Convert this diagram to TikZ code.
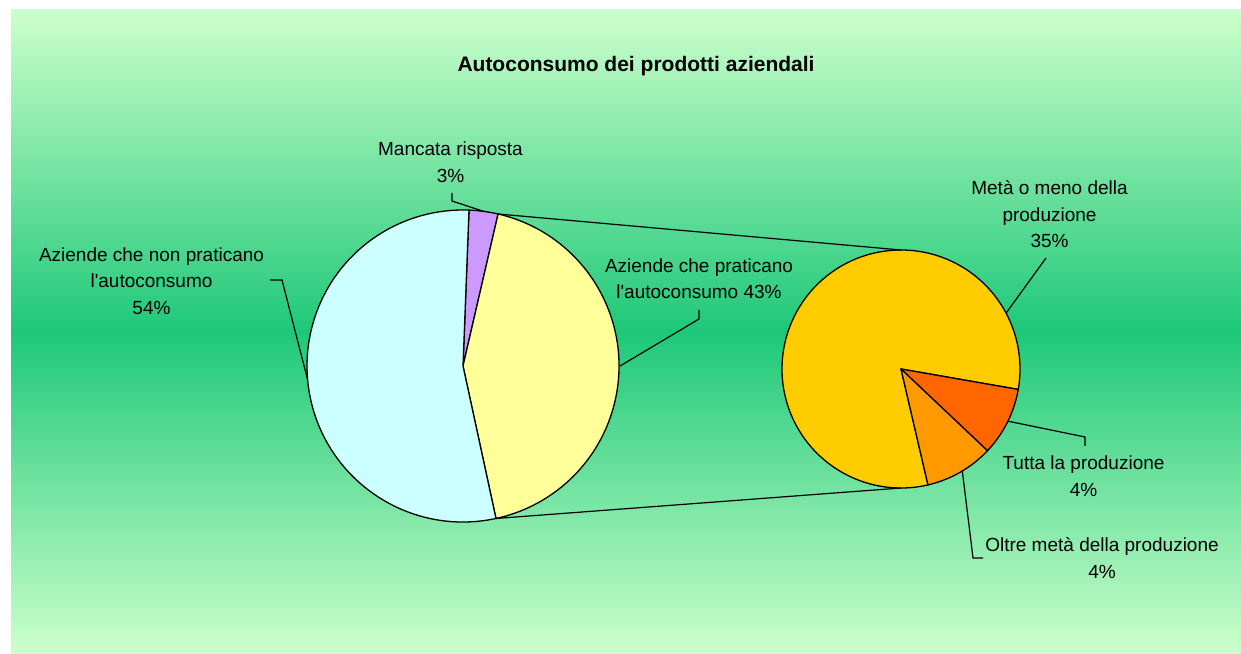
\documentclass[tikz,border=0pt]{standalone}
\usepackage{fontspec}
\setmainfont{Liberation Sans}
\usepackage{xcolor}
\definecolor{bgLight}{HTML}{CCFFCC}
\definecolor{bgMid}{HTML}{1EC878}
\definecolor{sliceCyan}{HTML}{CCFFFF}
\definecolor{sliceYellow}{HTML}{FFFF99}
\definecolor{slicePurple}{HTML}{CC99FF}
\definecolor{sliceGold}{HTML}{FFCC00}
\definecolor{sliceRed}{HTML}{FF6600}
\definecolor{sliceOrange}{HTML}{FF9900}
\usepackage{tikz}
\usetikzlibrary{positioning,calc}
\tikzset{%
  pieSlice/.style={%
    draw=black,
    line width=1.3pt,
    line join=round
  },
  leaderLine/.style={%
    draw=black,
    line width=1.2pt
  },
  dataLabel/.style={%
    align=center,
    inner sep=0pt,
    font=\fontsize{19}{26.5}\selectfont
  },
  chartTitle/.style={%
    inner sep=0pt,
    font=\bfseries\fontsize{21}{25}\selectfont
  }
}

\begin{document}
\begin{tikzpicture}[x=1pt, y=1pt]
            \useasboundingbox (0,0) rectangle (1241,653);
            \fill[white] (0,0) rectangle (1241,653);
            \fill[top color=bgLight, bottom color=bgLight, middle color=bgMid] (11,0) rectangle (1241,643);

            \coordinate (leftPie) at (463,287);
            \coordinate (rightPie) at (901,284);

            \filldraw[pieSlice, fill=slicePurple] (leftPie) -- ++(87.8:156pt) arc[start angle=87.8, end angle=77, radius=156pt] -- cycle;
            \filldraw[pieSlice, fill=sliceYellow] (leftPie) -- ++(77:156pt) arc[start angle=77, end angle=-77.8, radius=156pt] -- cycle;
            \filldraw[pieSlice, fill=sliceCyan] (leftPie) -- ++(-77.8:156pt) arc[start angle=-77.8, end angle=-272.2, radius=156pt] -- cycle;

            \filldraw[pieSlice, fill=sliceGold] (rightPie) -- ++(-76.9:119pt) arc[start angle=-76.9, end angle=-369.9, radius=119pt] -- cycle;
            \filldraw[pieSlice, fill=sliceRed] (rightPie) -- ++(-9.9:119pt) arc[start angle=-9.9, end angle=-43.4, radius=119pt] -- cycle;
            \filldraw[pieSlice, fill=sliceOrange] (rightPie) -- ++(-43.4:119pt) arc[start angle=-43.4, end angle=-76.9, radius=119pt] -- cycle;

            \coordinate (leftTop) at ($(leftPie)+(77:156pt)$);
            \coordinate (leftBottom) at ($(leftPie)+(-77.8:156pt)$);
            \coordinate (rightTop) at ($(rightPie)+(90:119pt)$);
            \coordinate (rightBottom) at ($(rightPie)+(-90:119pt)$);
            \draw[leaderLine] (leftTop) -- (rightTop);
            \draw[leaderLine] (leftBottom) -- (rightBottom);

            \node[chartTitle] (title) at (636,586.5) {Autoconsumo dei prodotti aziendali};

            \node[dataLabel] (lblMancata) at (450.5,491) {Mancata risposta\\3\%};
            \node[dataLabel] (lblNonPrat) at (151.5,372) {Aziende che non praticano\\l\textquotesingle autoconsumo\\54\%};
            \node[dataLabel] (lblPrat) at (699,374.5) {Aziende che praticano\\l\textquotesingle autoconsumo 43\%};
            \node[dataLabel] (lblMeta) at (1049.5,438.5) {Metà o meno della\\produzione\\35\%};
            \node[dataLabel] (lblTutta) at (1083.5,177) {Tutta la produzione\\4\%};
            \node[dataLabel] (lblOltre) at (1102,95) {Oltre metà della produzione\\4\%};

            \coordinate (mancataTip) at (452,460);
            \coordinate (mancataBend) at (452,452);
            \coordinate (mancataEnd) at ($(leftPie)+(82.4:156pt)$);
            \coordinate (nonPratTip) at (270,373);
            \coordinate (nonPratBend) at (282,373);
            \coordinate (nonPratEnd) at ($(leftPie)+(185:156pt)$);
            \coordinate (pratTip) at (699,343);
            \coordinate (pratBend) at (699,334);
            \coordinate (pratEnd) at ($(leftPie)+(0:157pt)$);
            \coordinate (metaTip) at (1046,395);
            \coordinate (metaEnd) at ($(rightPie)+(28:119pt)$);
            \coordinate (tuttaTip) at (1085,207);
            \coordinate (tuttaBend) at (1085,216);
            \coordinate (tuttaEnd) at ($(rightPie)+(-26:119pt)$);
            \coordinate (oltreTip) at (983,95);
            \coordinate (oltreBend) at (973,95);
            \coordinate (oltreEnd) at ($(rightPie)+(-59:119pt)$);

            \draw[leaderLine] (mancataTip) -- (mancataBend) -- (mancataEnd);
            \draw[leaderLine] (nonPratTip) -- (nonPratBend) -- (nonPratEnd);
            \draw[leaderLine] (pratTip) -- (pratBend) -- (pratEnd);
            \draw[leaderLine] (metaTip) -- (metaEnd);
            \draw[leaderLine] (tuttaTip) -- (tuttaBend) -- (tuttaEnd);
            \draw[leaderLine] (oltreTip) -- (oltreBend) -- (oltreEnd);
        \end{tikzpicture}
\end{document}
